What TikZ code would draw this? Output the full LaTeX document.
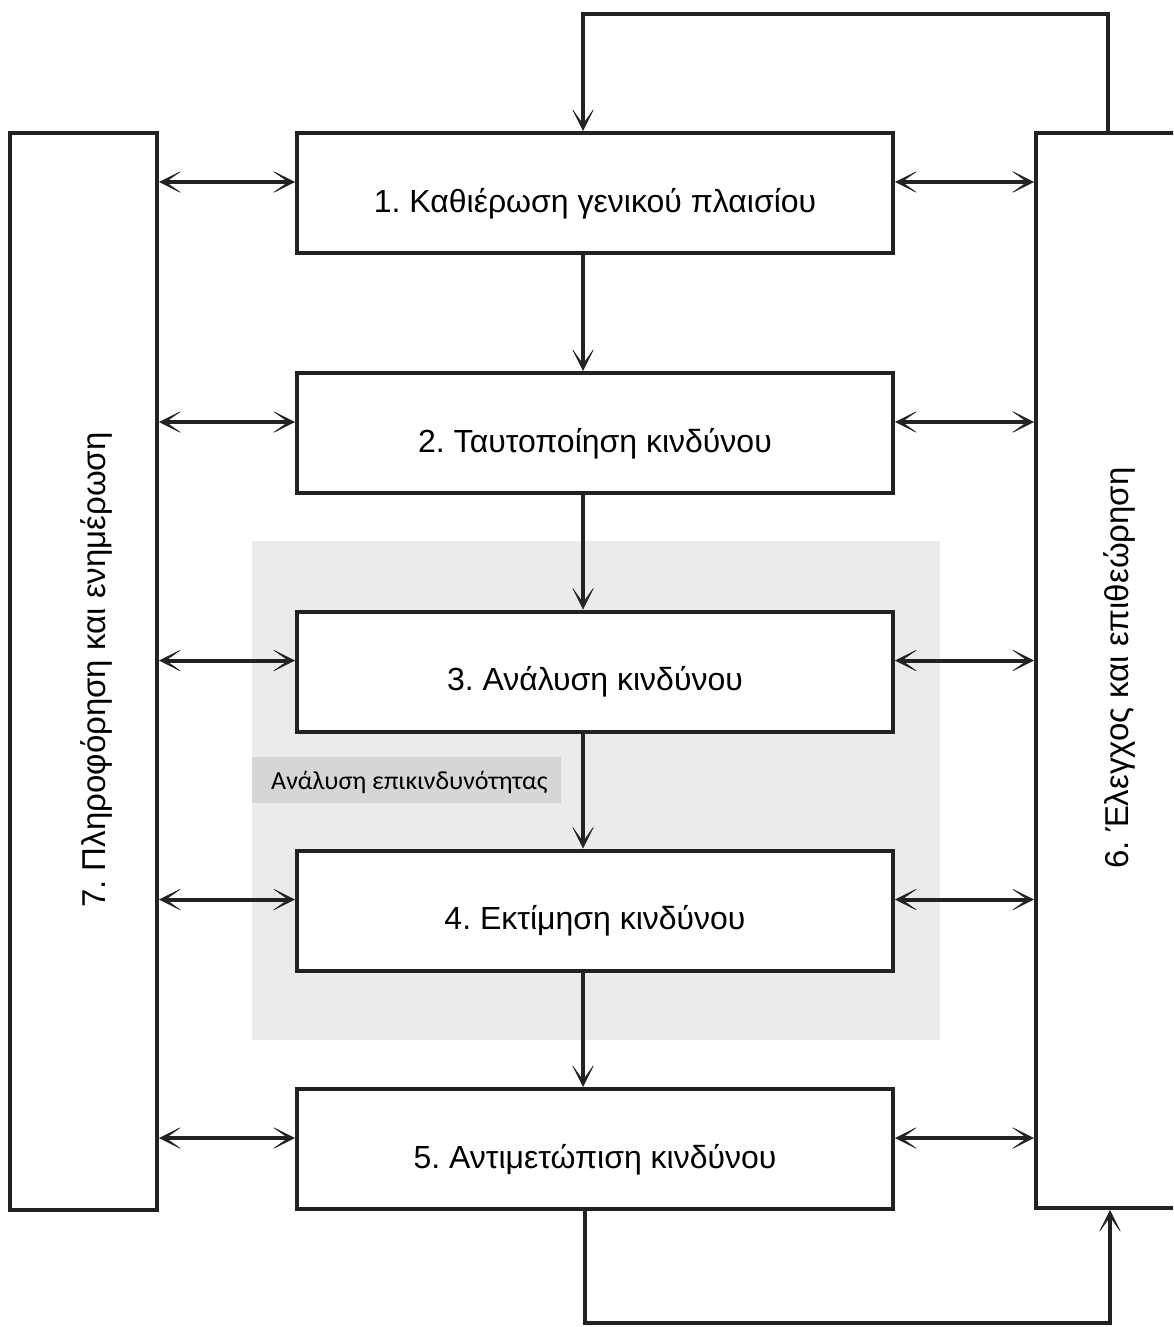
\documentclass[tikz,border=0pt]{standalone}
\usepackage{fontspec}
\setmainfont{Liberation Sans}
\newfontfamily\labelfont{Carlito}
\usetikzlibrary{arrows.meta}
\definecolor{linecol}{HTML}{222222}
\definecolor{shadecol}{HTML}{EBEBEB}
\definecolor{labelcol}{HTML}{D6D6D6}
\frenchspacing
\newcommand{\boxtext}[1]{\raisebox{-19pt}[0pt][0pt]{#1}}
\begin{document}
\begin{tikzpicture}[x=1pt,y=-1pt,
  tip/.tip={Stealth[length=24pt,width=24pt,inset=17pt,line width=0.5pt]},
  stepbox/.style={draw=linecol,line width=4pt,fill=white,minimum width=596pt,minimum height=120pt,inner sep=0pt,font=\fontsize{32}{38}\selectfont},
  sidebox/.style={draw=linecol,line width=4pt,fill=white,inner sep=0pt},
  sidetext/.style={font=\fontsize{33}{40}\selectfont,inner sep=0pt,rotate=90,anchor=base},
  conn/.style={draw=linecol,line width=4pt},
  dbl/.style={conn,{tip}-{tip}},
  sgl/.style={conn,-{tip}}]
\useasboundingbox (0,0) rectangle (1173,1327);
\begin{scope}
\clip (0,0) rectangle (1173,1327);
% shaded risk-analysis area
\fill[shadecol] (252,541) rectangle (940,1040);
\node[fill=labelcol,minimum width=309pt,minimum height=46pt,inner sep=0pt,anchor=north west] (labbox) at (252,757) {};
\node[anchor=base west,inner sep=0pt,font=\labelfont\fontsize{26}{30}\selectfont] (lab) at (271,789) {Ανάλυση επικινδυνότητας};
% side boxes
\node[sidebox,minimum width=147pt,minimum height=1077pt] (L) at (83.5,671.5) {};
\node[sidebox,minimum width=164pt,minimum height=1075pt] (R) at (1118,670.5) {};
\node[sidetext] (Lt) at (105,670) {7. Πληροφόρηση και ενημέρωση};
\node[sidetext] (Rt) at (1128,668) {6. Έλεγχος και επιθεώρηση};
% step boxes
\node[stepbox] (b1) at (595,193) {\boxtext{1. Καθιέρωση γενικού πλαισίου}};
\node[stepbox] (b2) at (595,433) {\boxtext{2. Ταυτοποίηση κινδύνου}};
\node[stepbox] (b3) at (595,671.5) {\boxtext{3. Ανάλυση κινδύνου}};
\node[stepbox] (b4) at (595,910.5) {\boxtext{4. Εκτίμηση κινδύνου}};
\node[stepbox] (b5) at (595,1149) {\boxtext{5. Αντιμετώπιση κινδύνου}};
% vertical flow
\foreach \a/\b in {b1/b2,b2/b3,b3/b4,b4/b5}
  \draw[sgl] ([xshift=-12pt]\a.south) -- ([xshift=-12pt]\b.north);
% horizontal double arrows
\foreach \b in {b1,b2,b3,b4,b5}{
  \draw[dbl] ([yshift=11pt]\b.west -| L.east) -- ([yshift=11pt]\b.west);
  \draw[dbl] ([yshift=11pt]\b.east) -- ([yshift=11pt]\b.east -| R.west);
}
% feedback loops
\coordinate (topy) at (0,14);
\coordinate (boty) at (0,1323);
\draw[sgl] ([xshift=-10pt]R.north) -- ([xshift=-10pt]R.north |- topy) -| ([xshift=-12pt]b1.north);
\draw[sgl] ([xshift=-10pt]b5.south) -- ([xshift=-10pt]b5.south |- boty) -| ([xshift=-8pt]R.south);
\end{scope}
\end{tikzpicture}
\end{document}
